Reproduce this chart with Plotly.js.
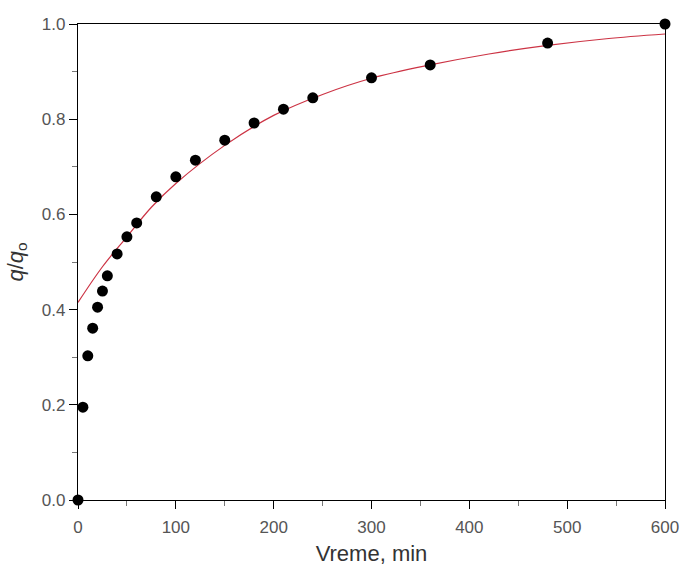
<!DOCTYPE html>
<html>
<head>
<meta charset="utf-8">
<script src="https://cdn.plot.ly/plotly-3.0.1.min.js"></script>
<style>html,body{margin:0;padding:0;background:#fff;}#chart{width:681px;height:568px;}</style>
</head>
<body>
<div id="chart"></div>
<script>
// Measured points
const timeMin = [0, 5, 10, 15, 20, 25, 30, 40, 50, 60, 80, 100, 120, 150, 180, 210, 240, 300, 360, 480, 600];
const qRatio  = [0, 0.195, 0.303, 0.361, 0.405, 0.439, 0.471, 0.517, 0.553, 0.582, 0.637, 0.679, 0.714, 0.756, 0.792, 0.821, 0.845, 0.887, 0.914, 0.960, 1.0];
// Fitted curve
const fitX = [0, 25, 50, 75, 100, 150, 200, 250, 300, 360, 420, 480, 540, 600];
const fitY = [0.415, 0.49, 0.553, 0.615, 0.665, 0.745, 0.808, 0.852, 0.886, 0.914, 0.937, 0.955, 0.969, 0.979];
// Axis ticks
const xTicks = [0, 100, 200, 300, 400, 500, 600];
const yTicks = [0.0, 0.2, 0.4, 0.6, 0.8, 1.0];
const yTickText = ['0.0', '0.2', '0.4', '0.6', '0.8', '1.0'];

const traces = [
  {x: fitX, y: fitY, type: 'scatter', mode: 'lines', line: {color: '#cc3344', width: 1.2, shape: 'spline'}, hoverinfo: 'skip', cliponaxis: false},
  {x: timeMin, y: qRatio, type: 'scatter', mode: 'markers', marker: {color: '#000', size: 11}, cliponaxis: false}
];
const fam = 'Liberation Sans, Arial, sans-serif';
const tickFont = {family: fam, size: 17, color: '#555'};
const layout = {
  width: 681, height: 568,
  margin: {l: 78, r: 16, t: 24, b: 68},
  paper_bgcolor: '#fff', plot_bgcolor: '#fff',
  showlegend: false,
  font: tickFont,
  xaxis: {
    range: [0, 600], tickvals: xTicks, ticks: 'outside', ticklen: 8, tickwidth: 1, tickcolor: '#000',
    showline: true, linecolor: '#000', linewidth: 1.2, mirror: true, showgrid: false, zeroline: false,
    minor: {dtick: 50, ticks: 'outside', ticklen: 5, tickcolor: '#777', showgrid: false},
    tickfont: tickFont, ticklabelstandoff: 3,
    title: {text: 'Vreme, min', font: {family: fam, size: 22, color: '#333'}, standoff: 10}
  },
  yaxis: {
    range: [0, 1], tickvals: yTicks, ticktext: yTickText, ticks: 'outside', ticklen: 8, tickwidth: 1, tickcolor: '#000',
    showline: true, linecolor: '#000', linewidth: 1.2, mirror: true, showgrid: false, zeroline: false,
    minor: {dtick: 0.1, ticks: 'outside', ticklen: 5, tickcolor: '#777', showgrid: false},
    tickfont: tickFont,
    title: {text: '<i>q</i>/<i>q</i><sub>o</sub>', font: {family: fam, size: 22, color: '#333'}, standoff: 12}
  }
};
Plotly.newPlot('chart', traces, layout, {displayModeBar: false, staticPlot: true});
</script>
</body>
</html>
